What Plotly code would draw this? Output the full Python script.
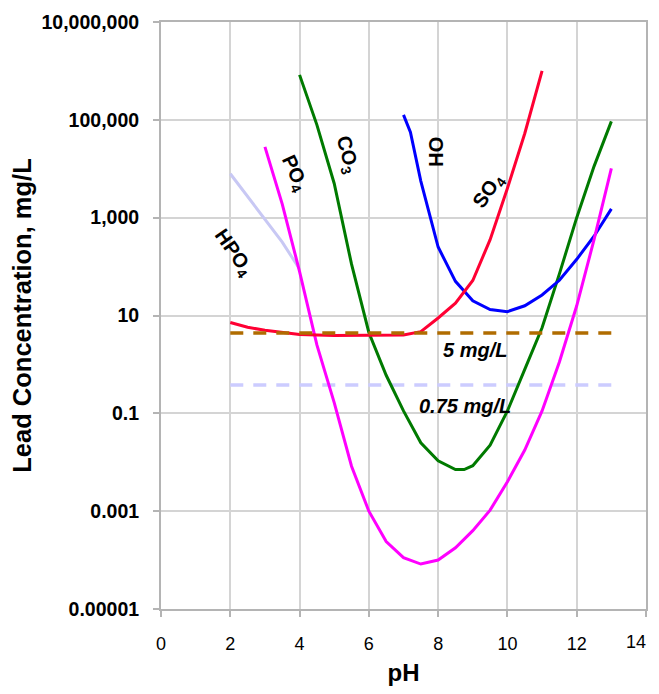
import math
import plotly.graph_objects as go

# ---- data ----
ph_hpo4 = [2, 2.5, 3, 3.5, 4]
pb_hpo4 = [7900, 2700, 930, 316, 89]

ph_po4 = [3, 3.5, 4, 4.5, 5, 5.5, 6, 6.5, 7, 7.5, 8, 8.5, 9, 9.5, 10, 10.5, 11, 11.5, 12, 12.5, 13]
pb_po4 = [2.8e4, 1.9e3, 79, 2.5, 0.166, 0.0083, 0.001, 2.4e-4, 1.12e-4, 8.3e-5, 1.0e-4,
          1.78e-4, 4.0e-4, 1.05e-3, 4.0e-3, 0.0178, 0.112, 1.12, 15.8, 355, 1.02e4]

ph_co3 = [4, 4.5, 5, 5.5, 6, 6.5, 7, 7.5, 8, 8.5, 8.75, 9, 9.5, 10, 10.5, 11, 11.5, 12, 12.5, 13]
pb_co3 = [8.3e5, 7.9e4, 5.0e3, 112, 4.5, 0.6, 0.112, 0.025, 0.0107, 0.0071, 0.0071, 0.0085,
          0.0224, 0.112, 0.79, 5.6, 71, 1000, 1.12e4, 9.3e4]

ph_oh = [7, 7.2, 7.5, 7.75, 8, 8.5, 9, 9.5, 10, 10.5, 11, 11.5, 12, 12.5, 13]
pb_oh = [1.26e5, 5.6e4, 5.6e3, 1.12e3, 251, 50, 20, 13.2, 12, 15.8, 26.3, 52.5, 141, 417, 1510]

ph_so4 = [2, 2.5, 3, 3.5, 4, 5, 6, 7, 7.5, 8, 8.5, 9, 9.5, 10, 10.5, 11]
pb_so4 = [7.2, 5.75, 5.0, 4.47, 4.07, 3.9, 3.9, 3.98, 4.68, 8.9, 17.8, 52, 355, 3980, 52500, 1.0e6]

limit_ph = [2, 13]
limit_5 = [4.4, 4.4]
limit_075 = [0.38, 0.38]

y_tickvals = [1e-5, 1e-3, 1e-1, 1e1, 1e3, 1e5, 1e7]
y_ticktext = ["0.00001", "0.001", "0.1", "10", "1,000", "100,000", "10,000,000"]
x_tickvals = [0, 2, 4, 6, 8, 10, 12, 14]
x_ticktext = ["0", "2", "4", "6", "8", "10", "12", ""]   # "14" drawn below, nudged inside the page
x_last_label = "14"

FONT = "Liberation Sans, Arial, sans-serif"

fig = go.Figure()

def line(x, y, color, width=3, dash=None):
    fig.add_trace(go.Scatter(x=x, y=y, mode="lines",
                             line=dict(color=color, width=width, dash=dash),
                             showlegend=False, hoverinfo="skip"))

line(limit_ph, limit_075, "#CCCCFF", 3.5, "13px,10px")
line(ph_hpo4, pb_hpo4, "#C8C8F4", 3)
line(ph_co3, pb_co3, "#007A00", 3)
line(ph_oh, pb_oh, "#0000FF", 3)
line(ph_po4, pb_po4, "#FF00FF", 3)
line(ph_so4, pb_so4, "#FF0033", 3)
line(limit_ph, limit_5, "#B06C00", 3.5, "13px,10px")

labels = [
    ("HPO<sub>4</sub>", 2.08, 195, 55),
    ("PO<sub>4</sub>", 3.85, 8100, 65),
    ("CO<sub>3</sub>", 5.36, 19500, 75),
    ("OH", 7.96, 22400, 90),
    ("SO<sub>4</sub>", 9.45, 3500, -55),
]
for txt, x, y, ang in labels:
    fig.add_annotation(x=x, y=math.log10(y), text="<b>" + txt + "</b>",
                       textangle=ang, showarrow=False,
                       font=dict(family=FONT, size=20, color="black"))

fig.add_annotation(x=9.06, y=0.29, text="<b><i>5 mg/L</i></b>", showarrow=False,
                   font=dict(family=FONT, size=20, color="black"))
fig.add_annotation(x=8.78, y=-0.84, text="<b><i>0.75 mg/L</i></b>", showarrow=False,
                   font=dict(family=FONT, size=20, color="black"))

# last x tick label, kept inside the page edge
fig.add_annotation(x=x_tickvals[-1], xref="x", y=0, yref="paper", text=x_last_label,
                   showarrow=False, xanchor="right", yanchor="top", xshift=2, yshift=-21,
                   font=dict(family=FONT, size=18, color="black"))

# page body has an 8px default margin: figure is sized/offset so the page does not overflow
fig.update_layout(
    width=643, height=678,
    margin=dict(l=153, r=5, t=14, b=77, autoexpand=False),
    paper_bgcolor="white", plot_bgcolor="white",
    font=dict(family=FONT, color="black"),
)
fig.update_xaxes(
    range=[0, 14], tickvals=x_tickvals, ticktext=x_ticktext, automargin=False,
    showgrid=True, gridcolor="#D4D4D4", gridwidth=2,
    showline=True, linecolor="#B4B4B4", linewidth=2, mirror=True,
    ticks="outside", ticklen=6, tickcolor="#B4B4B4", tickwidth=2,
    tickfont=dict(family=FONT, size=18, color="black"),
    ticklabelstandoff=11,
    zeroline=False,
    title=dict(text="<b>pH</b>", font=dict(family=FONT, size=24, color="black"), standoff=25),
)
fig.update_yaxes(
    type="log", range=[-5, 7], tickvals=y_tickvals, ticktext=y_ticktext, automargin=False,
    showgrid=True, gridcolor="#D4D4D4", gridwidth=2,
    showline=True, linecolor="#B4B4B4", linewidth=2, mirror=True,
    ticks="outside", ticklen=6, tickcolor="#B4B4B4", tickwidth=2,
    tickfont=dict(family=FONT, size=19.5, color="black", weight="bold"),
    ticklabelstandoff=10,
    zeroline=False,
    title=dict(text="<b>Lead Concentration, mg/L</b>", font=dict(family=FONT, size=25.5, color="black"), standoff=6),
)

fig.write_html("out.html")
